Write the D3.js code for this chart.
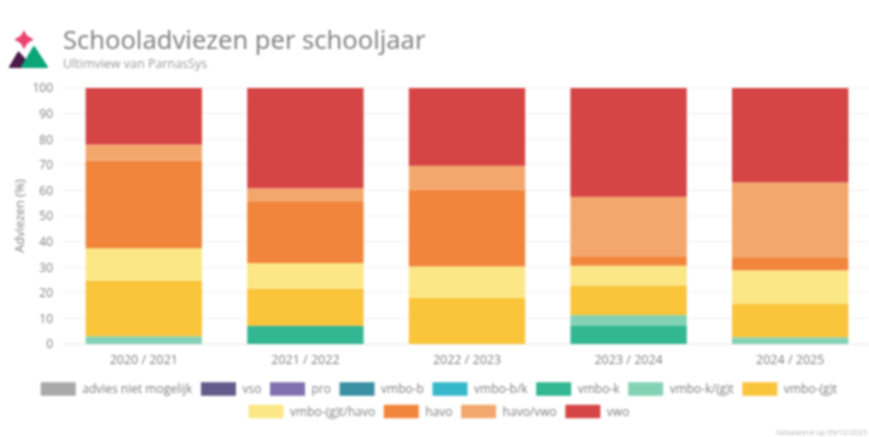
<!DOCTYPE html>
<html>
<head>
<meta charset="utf-8">
<script src="https://cdn.jsdelivr.net/npm/d3@7"></script>
<style>
html, body { margin: 0; padding: 0; background: #fff; overflow: hidden; }
svg { display: block; filter: blur(0.8px); }
text { font-family: "Open Sans", sans-serif; }
</style>
</head>
<body>
<div id="vis"></div>
<script>
// values
const years = ["2020 / 2021", "2021 / 2022", "2022 / 2023", "2023 / 2024", "2024 / 2025"];
const yTicks = [0, 10, 20, 30, 40, 50, 60, 70, 80, 90, 100];

const series = ["advies niet mogelijk", "vso", "pro", "vmbo-b", "vmbo-b/k", "vmbo-k", "vmbo-k/(g)t",
    "vmbo-(g)t", "vmbo-(g)t/havo", "havo", "havo/vwo", "vwo"];
const colors = ["#a9a9a9", "#625a8a", "#8270b0", "#3a8fa3", "#36b8ca", "#33b792", "#84d2b6",
    "#fac43b", "#fbe785", "#f2853c", "#f3a76c", "#d64545"];

const nietMogelijk = [0, 0, 0, 0, 0];
const vso = [0, 0, 0, 0, 0];
const pro = [0, 0, 0, 0, 0];
const vmboB = [0, 0, 0, 0, 0];
const vmboBK = [0, 0, 0, 0, 0];
const vmboK = [0, 7.1, 0, 7.3, 0];
const vmboKGT = [3, 0, 0, 4, 2.6];
const vmboGT = [21.8, 14.6, 18, 11.6, 13];
const vmboGTHavo = [12.6, 9.9, 12.3, 7.7, 13.2];
const havo = [34.2, 24.2, 30, 3.7, 5.1];
const havoVwo = [6.3, 5, 9.3, 23.2, 29.2];
const vwo = [22.1, 39.2, 30.4, 42.5, 36.9];

const columns = [nietMogelijk, vso, pro, vmboB, vmboBK, vmboK, vmboKGT, vmboGT, vmboGTHavo, havo, havoVwo, vwo];

const width = 869;
const height = 437;
const margins = { top: 88, right: -2, bottom: 93, left: 63 };

const svg = d3.select("#vis").append("svg").attr("width", width).attr("height", height);

// table for d3.stack, one row per school year
const rows = years.map((y, i) => {
    const row = { year: y };
    series.forEach((s, j) => { row[s] = columns[j][i]; });
    return row;
});
const stacked = d3.stack().keys(series)(rows);

const x = d3.scaleBand().domain(years).range([margins.left, width - margins.right])
    .paddingInner(0.28).paddingOuter(0.14);
const y = d3.scaleLinear().domain([0, 100]).range([height - margins.bottom, margins.top]);
const color = d3.scaleOrdinal().domain(series).range(colors);

// Grid
svg.append("g")
    .selectAll("line")
    .data(yTicks)
    .enter().append("line")
    .attr("x1", margins.left)
    .attr("x2", width)
    .attr("y1", d => y(d))
    .attr("y2", d => y(d))
    .attr("stroke", d => d === 0 ? "#e4e4e4" : "#efefef");

// Axes
const yAxis = svg.append("g")
    .attr("transform", "translate(" + margins.left + ",0)")
    .call(d3.axisLeft(y).tickValues(yTicks).tickSize(0).tickPadding(10));
yAxis.select(".domain").remove();
yAxis.selectAll("text").style("font-size", "12px").attr("fill", "#7d7d7d");

const xAxis = svg.append("g")
    .attr("transform", "translate(0," + y(0) + ")")
    .call(d3.axisBottom(x).tickSize(0).tickPadding(11));
xAxis.select(".domain").remove();
xAxis.selectAll("text").style("font-size", "12.5px").attr("fill", "#7d7d7d");

svg.append("text")
    .attr("transform", "translate(24," + y(50) + ") rotate(-90)")
    .attr("text-anchor", "middle")
    .style("font-size", "12.5px")
    .attr("fill", "#7d7d7d")
    .text("Adviezen (%)");

// Bars
svg.append("g")
    .selectAll("g")
    .data(stacked)
    .enter().append("g")
    .attr("fill", d => color(d.key))
    .selectAll("rect")
    .data(d => d)
    .enter().append("rect")
    .attr("x", d => x(d.data.year))
    .attr("y", d => y(d[1]))
    .attr("width", x.bandwidth())
    .attr("height", d => y(d[0]) - y(d[1]));

// Title
svg.append("text")
    .attr("x", 63)
    .attr("y", 49)
    .style("font-family", "'Noto Sans', sans-serif")
    .style("font-size", "25.5px")
    .attr("fill", "#858585")
    .text("Schooladviezen per schooljaar");

svg.append("text")
    .attr("x", 63)
    .attr("y", 68)
    .style("font-size", "12.5px")
    .attr("fill", "#999")
    .text("Ultimview van ParnasSys");

// Logo
const logo = svg.append("g").attr("stroke-linejoin", "round").attr("stroke-width", 2);
logo.append("path")
    .attr("d", "M24 32 Q25.5 37 32 39.5 Q25.5 42 24 47.5 Q22.5 42 16 39.5 Q22.5 37 24 32 Z")
    .attr("fill", "#ea4472")
    .attr("stroke", "#ea4472");
logo.append("path")
    .attr("d", "M10 67 L18.5 52.5 L25 60 L27 67 Z")
    .attr("fill", "#4c1a48")
    .attr("stroke", "#4c1a48");
logo.append("path")
    .attr("d", "M22 67 L34 47 L47 67 Z")
    .attr("fill", "#0ba678")
    .attr("stroke", "#0ba678");

// Legend, wrapped on two centred rows
const legendRows = [series.slice(0, 8), series.slice(8)];
const swatchW = 35;
const swatchH = 13.5;
const textGap = 6.5;
const itemGap = 8.6;
const legend = svg.append("g");

legendRows.forEach((names, r) => {
    const rowY = 389 + r * 22.5;
    const items = legend.selectAll(".row" + r)
        .data(names)
        .enter().append("g")
        .attr("class", "row" + r);

    items.append("rect")
        .attr("y", rowY - swatchH / 2)
        .attr("width", swatchW)
        .attr("height", swatchH)
        .attr("fill", d => color(d));

    items.append("text")
        .attr("x", swatchW + textGap)
        .attr("y", rowY)
        .attr("dy", "0.35em")
        .style("font-size", "12px")
        .attr("fill", "#7d7d7d")
        .text(d => d);

    const lengths = items.select("text").nodes().map(n => n.getComputedTextLength() + swatchW + textGap);
    const total = d3.sum(lengths) + itemGap * (names.length - 1);
    let cursor = 439 - total / 2;
    items.attr("transform", (d, i) => {
        const t = "translate(" + cursor + ",0)";
        cursor += lengths[i] + itemGap;
        return t;
    });
});

// Footnote
svg.append("text")
    .attr("x", 867)
    .attr("y", 435)
    .attr("text-anchor", "end")
    .style("font-size", "7.5px")
    .attr("fill", "#b5b5b5")
    .text("Gebaseerd op 09/12/2025");
</script>
</body>
</html>
